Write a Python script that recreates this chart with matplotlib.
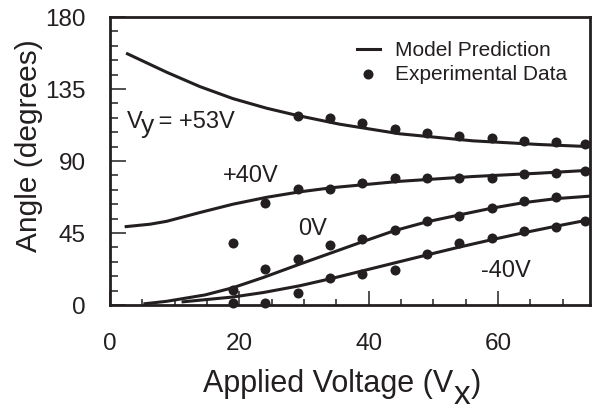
import matplotlib.pyplot as plt
from matplotlib.ticker import MultipleLocator

plt.rcParams['font.family'] = ['Liberation Sans', 'DejaVu Sans']
ink = '#231f20'

# Model prediction curves
x_m53 = [2.7, 8.75, 13.9, 19, 24.2, 28.8, 35.5, 44.8, 56.1, 66.4, 74.1]
y_m53 = [157, 145.5, 136.5, 129, 123, 118.6, 113, 107, 102.6, 100.3, 99]
x_m40 = [2.5, 6.2, 8.75, 13.9, 19, 24.2, 29.3, 34.5, 44.8, 56.1, 66.4, 74.1]
y_m40 = [49, 50.5, 52.3, 57.8, 63, 67.3, 70.7, 73.4, 77.3, 80.3, 82.4, 84.2]
x_m0 = [5.4, 8.75, 14.7, 19, 23.7, 29.3, 34.5, 39, 44, 49, 54, 59, 64, 69, 74.1]
y_m0 = [0.8, 2.3, 6.3, 10.8, 17.2, 25.5, 33, 39.5, 46.5, 52, 56.3, 60.5, 64, 66.5, 68]
x_mn40 = [11.3, 19, 23.7, 29.3, 34.5, 39, 44, 49, 54, 59, 64, 69, 74.1]
y_mn40 = [2, 5.0, 7.8, 12, 16.8, 21.3, 26.3, 31.3, 36.2, 40.8, 45.2, 49.3, 53.3]

# Experimental data
x_e53 = [29, 34, 39, 44, 49, 54, 59, 64, 69, 73.5]
y_e53 = [118, 116.7, 113.5, 110, 107.3, 105.6, 104.2, 102.7, 101.7, 100.6]
x_e40 = [24, 29, 34, 39, 44, 49, 54, 59, 64, 69, 73.5]
y_e40 = [63.7, 72.6, 72.5, 76.5, 79.6, 79.6, 79.6, 79.2, 81.9, 82.7, 83.75]
x_e0 = [19, 19, 24, 29, 34, 39, 44, 49, 54, 59, 64, 69]
y_e0 = [9.4, 38.5, 22.7, 28.75, 37.5, 41, 46.9, 52.7, 55.6, 60.4, 65, 67.7]
x_en40 = [19, 24, 29, 34, 39, 44, 49, 54, 59, 64, 69, 73.5]
y_en40 = [1.4, 1.4, 7.7, 16.7, 19.4, 21.9, 31.7, 38.5, 41.7, 46.5, 48.5, 52.5]

fig = plt.figure(figsize=(5.97, 4.08), dpi=100)
ax = fig.add_axes([110/597, 1-305/408, 480/597, 288/408])

curves = [(x_m53, y_m53), (x_m40, y_m40), (x_m0, y_m0), (x_mn40, y_mn40)]
for i, (xs, ys) in enumerate(curves):
    ax.plot(xs, ys, color=ink, lw=2.2, solid_joinstyle='round',
            label='Model Prediction' if i == 0 else None)

points = [(x_e53, y_e53), (x_e40, y_e40), (x_e0, y_e0), (x_en40, y_en40)]
for i, (xs, ys) in enumerate(points):
    ax.scatter(xs, ys, s=52, color=ink, linewidths=0, zorder=3, clip_on=False,
               label='Experimental Data' if i == 0 else None)

ax.set_xlim(0, 74.2)
ax.set_ylim(0, 180)
ax.xaxis.set_major_locator(MultipleLocator(20))
ax.xaxis.set_minor_locator(MultipleLocator(5))
ax.yaxis.set_major_locator(MultipleLocator(45))
ax.yaxis.set_minor_locator(MultipleLocator(9))
ax.tick_params(axis='x', which='major', direction='in', length=10, width=1.1,
               pad=20, labelsize=17.5, colors=ink)
ax.tick_params(axis='x', which='minor', direction='in', length=4.5, width=1.1, colors=ink)
ax.tick_params(axis='y', which='major', direction='in', length=11.5, width=1.1,
               pad=17.5, labelsize=17.5, colors=ink)
ax.tick_params(axis='y', which='minor', direction='in', length=5.5, width=1.1, colors=ink)
for s in ax.spines.values():
    s.set_linewidth(2.0)
    s.set_color(ink)

leg = ax.legend(loc='upper left', bbox_to_anchor=(0.514, 0.915), frameon=False,
                fontsize=15, handlelength=1.12, handletextpad=0.72,
                labelspacing=0.2, borderpad=0, borderaxespad=0)
for t in leg.get_texts():
    t.set_color(ink)

# curve labels
ax.text(17.5, 77, '+40V', fontsize=17, color=ink, va='baseline')
ax.text(29.1, 43.75, '0V', fontsize=17, color=ink, va='baseline')
ax.text(57.4, 17.7, '-40V', fontsize=17, color=ink, va='baseline')
v1 = ax.text(2.6, 110.6, 'V', fontsize=17, color=ink, va='baseline')
v2 = ax.annotate('y', xy=(1, 0), xycoords=v1, xytext=(-1.5, 0.3), textcoords='offset points',
                 fontsize=19, color=ink, va='baseline')
ax.annotate(' = +53V', xy=(1, 0), xycoords=(v2, v1), xytext=(-1, 0),
            textcoords='offset points', fontsize=17, color=ink, va='bottom')

# axis labels
fig.text(29/597, 1-146/408, 'Angle (degrees)', rotation=90, fontsize=21.5,
         color=ink, ha='center', va='center')
a1 = fig.text(203/597, 1-392/408, 'Applied Voltage (V', fontsize=22,
              color=ink, ha='left', va='baseline')
a2 = ax.annotate('x', xy=(1, 0), xycoords=a1, xytext=(0.5, -3.5),
                 textcoords='offset points', fontsize=24, color=ink, va='baseline',
                 annotation_clip=False)
ax.annotate(')', xy=(1, 0), xycoords=(a2, a1), xytext=(0, 0),
            textcoords='offset points', fontsize=22, color=ink, va='bottom',
            annotation_clip=False)

fig.savefig('out.png', dpi=100)
